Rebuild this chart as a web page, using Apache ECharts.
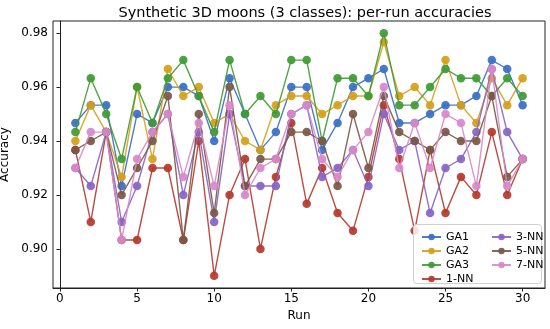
<!DOCTYPE html>
<html>
<head>
<meta charset="utf-8">
<script src="https://cdn.jsdelivr.net/npm/echarts@6/dist/echarts.min.js"></script>
<style>html,body{margin:0;padding:0;background:#fff}#c{width:550px;height:329px}</style>
</head>
<body>
<div id="c"></div>
<script>
const runs = [1,2,3,4,5,6,7,8,9,10,11,12,13,14,15,16,17,18,19,20,21,22,23,24,25,26,27,28,29,30];
const GA1 = [0.9467,0.9533,0.9533,0.9233,0.95,0.9467,0.96,0.96,0.9567,0.94,0.9633,0.95,0.9367,0.9433,0.96,0.96,0.9367,0.9467,0.96,0.9633,0.9667,0.9467,0.9467,0.95,0.9533,0.9533,0.9567,0.97,0.9667,0.9533];
const GA2 = [0.94,0.9533,0.9433,0.9267,0.96,0.9333,0.9667,0.9567,0.96,0.9467,0.95,0.94,0.9367,0.9533,0.9567,0.9567,0.95,0.9533,0.9567,0.9567,0.9767,0.9567,0.96,0.9533,0.97,0.9533,0.9467,0.9633,0.9533,0.9633];
const GA3 = [0.9433,0.9633,0.95,0.9333,0.96,0.9467,0.9633,0.97,0.9567,0.9433,0.97,0.95,0.9567,0.95,0.97,0.97,0.94,0.9633,0.9633,0.9567,0.98,0.9533,0.9533,0.96,0.9667,0.9633,0.9633,0.9567,0.9633,0.9567];
const NN1 = [0.9367,0.91,0.9433,0.9033,0.9033,0.93,0.93,0.9033,0.94,0.89,0.92,0.9333,0.90,0.9267,0.9467,0.9167,0.93,0.9133,0.9067,0.9267,0.9533,0.9333,0.9067,0.9367,0.9133,0.9267,0.92,0.9433,0.92,0.9333];
const NN3 = [0.93,0.9233,0.9433,0.91,0.9233,0.9433,0.95,0.92,0.9433,0.91,0.95,0.9233,0.9233,0.9233,0.95,0.9533,0.9267,0.93,0.9367,0.9233,0.95,0.9367,0.94,0.9133,0.93,0.9333,0.9433,0.9667,0.9433,0.9333];
const NN5 = [0.9367,0.94,0.9433,0.92,0.93,0.94,0.9567,0.9033,0.95,0.9133,0.96,0.9233,0.9333,0.9333,0.9433,0.9433,0.94,0.9233,0.95,0.93,0.9567,0.9433,0.94,0.9367,0.9433,0.94,0.94,0.9567,0.9267,0.9333];
const NN7 = [0.93,0.9433,0.9433,0.9033,0.9333,0.9433,0.95,0.9267,0.9467,0.9233,0.9533,0.92,0.93,0.9333,0.95,0.9533,0.9333,0.9267,0.9367,0.9433,0.96,0.93,0.9467,0.93,0.95,0.9467,0.9233,0.9667,0.9233,0.9333];
const seriesNames = ['GA1','GA2','GA3','1-NN','3-NN','5-NN','7-NN'];
const xTicks = [0,5,10,15,20,25,30];
const yTicks = [0.90,0.92,0.94,0.96,0.98];

const values = [GA1,GA2,GA3,NN1,NN3,NN5,NN7];
const colors = ['#3a6fc4','#d4a01a','#3f9a35','#b5382c','#8763c6','#7a5846','#d888c9'];
const FONT = 'DejaVu Sans';

const chart = echarts.init(document.getElementById('c'), null, {renderer:'canvas'});
const series = seriesNames.map((n,i)=>({
  name:n, type:'line',
  data: runs.map((r,j)=>[r, values[i][j]]),
  symbol:'circle', symbolSize:8.5,
  lineStyle:{width:1.4, color:colors[i], opacity:0.9},
  itemStyle:{color:colors[i], opacity:0.92},
  emphasis:{disabled:true},
  z: 2 + i*0.01,
  animation:false
}));
chart.setOption({
  animation:false,
  backgroundColor:'#fff',
  title:{text:'Synthetic 3D moons (3 classes): per-run accuracies', left:300, textAlign:'center', top:1,
    textStyle:{fontFamily:FONT, fontSize:14.5, fontWeight:'normal', color:'#000'}},
  grid:{left:53, top:21, right:5, bottom:41, show:true, borderColor:'#222', borderWidth:1, backgroundColor:'#fff',
    containLabel:false, outerBoundsMode:'none'},
  xAxis:{type:'value', min:-0.45, max:31.45, name:'Run', nameLocation:'middle', nameGap:22, nameMoveOverlap:false,
    nameTextStyle:{fontFamily:FONT, fontSize:12, color:'#000'},
    axisLine:{show:true, lineStyle:{color:'#222'}},
    axisTick:{show:true, length:3.5, inside:false, customValues:xTicks, lineStyle:{color:'#222'}},
    axisLabel:{customValues:xTicks, fontFamily:FONT, fontSize:12, color:'#000', margin:5},
    splitLine:{show:false}},
  yAxis:{type:'value', min:0.8855, max:0.9845, name:'Accuracy', nameLocation:'middle', nameGap:42, nameMoveOverlap:false,
    nameTextStyle:{fontFamily:FONT, fontSize:12, color:'#000'},
    axisLine:{show:true, lineStyle:{color:'#222'}},
    axisTick:{show:true, length:3.5, customValues:yTicks, lineStyle:{color:'#222'}},
    axisLabel:{customValues:yTicks, fontFamily:FONT, fontSize:12, color:'#000', margin:5, formatter:v=>v.toFixed(2)},
    splitLine:{show:false}},
  legend:[
    {data:seriesNames.slice(0,4), orient:'vertical', left:416, top:226, itemWidth:19, itemHeight:8, itemGap:2,
      textStyle:{fontFamily:FONT, fontSize:11, color:'#000', lineHeight:12}, selectedMode:false, z:5},
    {data:seriesNames.slice(4), orient:'vertical', left:486, top:226, itemWidth:19, itemHeight:8, itemGap:2,
      textStyle:{fontFamily:FONT, fontSize:11, color:'#000', lineHeight:12}, selectedMode:false, z:5}
  ],
  graphic:[{type:'rect', left:413, top:224, z:4, shape:{width:128, height:59, r:3},
    style:{fill:'rgba(255,255,255,0.85)', stroke:'#d0d0d0', lineWidth:1}}],
  series: series
});
</script>
</body>
</html>
